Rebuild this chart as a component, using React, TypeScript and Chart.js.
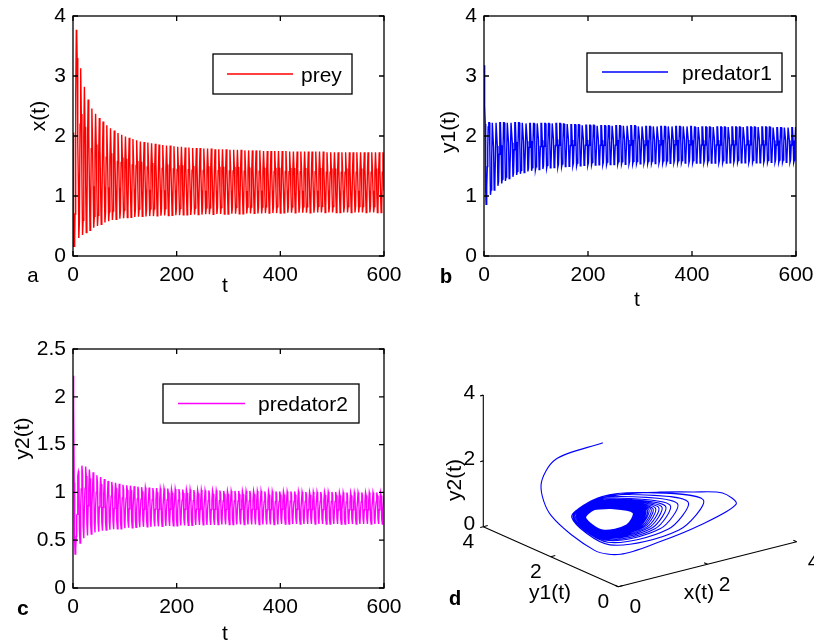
import React, { useEffect, useRef } from "react";
import { Chart, registerables } from "chart.js";

Chart.register(...registerables);

const W = 814;
const H = 641;
const SANS = '"Liberation Sans", Arial, Helvetica, sans-serif';
const MONO = '"Liberation Mono", "DejaVu Sans Mono", monospace';
const FONT_SIZE = 21;

// ---------- time axis ----------
const T_MIN = 0;
const T_MAX = 600;
const T_STEP = 200;
const PERIOD = 7.2; // one oscillation, read from the spacing of the spikes
const CYCLE_START = 11.2;

// ---------- initial transient ----------
const TRANSIENT_T = [0, 0.8, 1.6, 2.4, 3.2, 4.0, 4.8, 5.6, 6.4, 7.2, 8.0, 8.8, 9.6, 10.4];
const PREY_TRANSIENT = [2.06, 0.9, 0.16, 0.16, 0.3, 0.7, 1.6, 2.7, 3.77, 3.7, 3.3, 2.61, 1.87, 1.2];
const PRED1_TRANSIENT = [3.18, 3.05, 2.5, 2.2, 1.1, 0.86, 0.95, 1.15, 1.49, 1.8, 2.15, 2.22, 2.22, 2.22];
const PRED2_TRANSIENT = [2.22, 2.17, 1.9, 1.1, 0.5, 0.355, 0.36, 0.42, 0.54, 0.76, 0.77, 0.97, 1.17, 1.22];

// ---------- per-cycle minima / maxima (read from the envelopes) ----------
const PREY_TROUGHS = [
  0.30, 0.35, 0.39, 0.43, 0.47, 0.50, 0.53, 0.56, 0.58,
  0.60, 0.61, 0.62, 0.63, 0.64, 0.645, 0.65, 0.655, 0.66, 0.66,
  0.665, 0.665, 0.67, 0.67, 0.675, 0.675, 0.68, 0.68, 0.68, 0.685,
  0.685, 0.685, 0.69, 0.69, 0.69, 0.695, 0.695, 0.695, 0.70, 0.70,
  0.70, 0.70, 0.705, 0.705, 0.705, 0.705, 0.71, 0.71, 0.71, 0.71,
  0.71, 0.715, 0.715, 0.715, 0.715, 0.715, 0.72, 0.72, 0.72, 0.72,
  0.72, 0.72, 0.72, 0.72, 0.72, 0.725, 0.725, 0.725, 0.725, 0.725,
  0.725, 0.725, 0.725, 0.725, 0.725, 0.725, 0.725, 0.725, 0.725, 0.725, 0.725, 0.725, 0.725,
];
const PREY_PEAKS = [
  3.13, 2.82, 2.61, 2.46, 2.37, 2.30, 2.24, 2.18, 2.13,
  2.09, 2.05, 2.02, 1.99, 1.97, 1.95, 1.93, 1.91, 1.90, 1.89,
  1.88, 1.87, 1.86, 1.85, 1.84, 1.84, 1.83, 1.82, 1.82, 1.81,
  1.81, 1.80, 1.80, 1.80, 1.79, 1.79, 1.79, 1.78, 1.78, 1.78,
  1.78, 1.77, 1.77, 1.77, 1.77, 1.76, 1.76, 1.76, 1.76, 1.76,
  1.75, 1.75, 1.75, 1.75, 1.75, 1.75, 1.75, 1.74, 1.74, 1.74,
  1.74, 1.74, 1.74, 1.74, 1.74, 1.74, 1.74, 1.73, 1.73, 1.73,
  1.73, 1.73, 1.73, 1.73, 1.73, 1.73, 1.73, 1.73, 1.73, 1.73, 1.73, 1.73, 1.73,
];
const PRED1_TROUGHS = [
  1.02, 1.10, 1.17, 1.21, 1.25, 1.29, 1.32, 1.35, 1.37,
  1.39, 1.41, 1.42, 1.43, 1.44, 1.45, 1.46, 1.47, 1.475, 1.48,
  1.485, 1.49, 1.495, 1.50, 1.50, 1.505, 1.51, 1.51, 1.515, 1.515,
  1.52, 1.52, 1.52, 1.525, 1.525, 1.53, 1.53, 1.53, 1.53, 1.535,
  1.535, 1.535, 1.54, 1.54, 1.54, 1.54, 1.545, 1.545, 1.545, 1.545,
  1.55, 1.55, 1.55, 1.55, 1.55, 1.55, 1.55, 1.55, 1.55, 1.55,
  1.55, 1.55, 1.55, 1.55, 1.55, 1.555, 1.555, 1.555, 1.555, 1.555,
  1.555, 1.555, 1.555, 1.555, 1.555, 1.555, 1.56, 1.56, 1.56, 1.56, 1.56, 1.56, 1.56,
];
const PRED1_PEAKS = [
  2.22, 2.22, 2.22, 2.22, 2.22, 2.22, 2.22, 2.22, 2.22,
  2.21, 2.21, 2.21, 2.21, 2.21, 2.21, 2.21, 2.21, 2.21, 2.21,
  2.20, 2.20, 2.19, 2.19, 2.19, 2.18, 2.18, 2.18, 2.18, 2.17,
  2.17, 2.17, 2.17, 2.17, 2.17, 2.17, 2.17, 2.17, 2.17, 2.17,
  2.16, 2.16, 2.16, 2.16, 2.16, 2.16, 2.16, 2.16, 2.16, 2.16,
  2.16, 2.16, 2.16, 2.16, 2.16, 2.15, 2.15, 2.15, 2.15, 2.15,
  2.15, 2.15, 2.15, 2.15, 2.15, 2.15, 2.15, 2.15, 2.15, 2.15,
  2.15, 2.15, 2.15, 2.15, 2.15, 2.15, 2.14, 2.14, 2.14, 2.14, 2.14, 2.14, 2.14,
];
const PRED2_TROUGHS = [
  0.47, 0.52, 0.55, 0.565, 0.58, 0.59, 0.60, 0.605, 0.61,
  0.615, 0.62, 0.62, 0.625, 0.63, 0.63, 0.635, 0.635, 0.64, 0.64,
  0.64, 0.645, 0.645, 0.645, 0.65, 0.65, 0.65, 0.65, 0.655, 0.655,
  0.655, 0.655, 0.66, 0.66, 0.66, 0.66, 0.66, 0.66, 0.665, 0.665,
  0.665, 0.665, 0.665, 0.665, 0.665, 0.665, 0.665, 0.665, 0.665, 0.665,
  0.665, 0.665, 0.665, 0.665, 0.665, 0.67, 0.67, 0.67, 0.67, 0.67,
  0.67, 0.67, 0.67, 0.67, 0.67, 0.67, 0.67, 0.67, 0.67, 0.67,
  0.67, 0.67, 0.67, 0.67, 0.67, 0.67, 0.67, 0.67, 0.67, 0.67, 0.67, 0.67, 0.67,
];
const PRED2_PEAKS = [
  1.28, 1.27, 1.24, 1.21, 1.18, 1.16, 1.14, 1.12, 1.11,
  1.10, 1.09, 1.08, 1.075, 1.07, 1.065, 1.06, 1.055, 1.05, 1.05,
  1.045, 1.045, 1.04, 1.04, 1.04, 1.035, 1.035, 1.035, 1.03, 1.03,
  1.03, 1.025, 1.025, 1.025, 1.02, 1.02, 1.02, 1.02, 1.02, 1.015,
  1.015, 1.015, 1.015, 1.015, 1.015, 1.015, 1.015, 1.015, 1.015, 1.015,
  1.01, 1.01, 1.01, 1.01, 1.01, 1.01, 1.01, 1.01, 1.01, 1.01,
  1.005, 1.005, 1.005, 1.005, 1.005, 1.005, 1.005, 1.005, 1.005, 1.005,
  1.0, 1.0, 1.0, 1.0, 1.0, 1.0, 1.0, 1.0, 1.0, 1.0, 1.0, 1.0, 1.0,
];

// position of each variable between its trough (0) and peak (1) over one cycle,
// read from the loop shape of the phase portrait
const PREY_SHAPE = [0, 0.1, 0.67, 1, 0.73, 0.36];
const PRED1_SHAPE = [0.63, 0, 0.07, 0.5, 1, 1];
const PRED2_SHAPE = [0.9, 0.17, 0, 0.45, 0.7, 1];

// ---------- build the sample tables ----------
type Pt = { x: number; y: number };
function buildSeries(transient: number[], troughs: number[], peaks: number[], shape: number[]): Pt[] {
  const pts: Pt[] = TRANSIENT_T.map((t, i) => ({ x: t, y: transient[i] }));
  troughs.forEach((lo, k) => {
    shape.forEach((f, j) => {
      pts.push({ x: CYCLE_START + (k + j / shape.length) * PERIOD, y: lo + (peaks[k] - lo) * f });
    });
  });
  return pts;
}
const PREY = buildSeries(PREY_TRANSIENT, PREY_TROUGHS, PREY_PEAKS, PREY_SHAPE);
const PRED1 = buildSeries(PRED1_TRANSIENT, PRED1_TROUGHS, PRED1_PEAKS, PRED1_SHAPE);
const PRED2 = buildSeries(PRED2_TRANSIENT, PRED2_TROUGHS, PRED2_PEAKS, PRED2_SHAPE);

// ---------- 3-D view (panel d) ----------
const VIEW_ORIGIN = [618.3, 586.7];
const VIEW_X = [44.6, -11.25];
const VIEW_Y1 = [-33.75, -15];
const VIEW_Z = [0, -32.9];
const PHASE_TICKS = [0, 2, 4];
function project(x: number, y1: number, z: number): Pt {
  return {
    x: VIEW_ORIGIN[0] + x * VIEW_X[0] + y1 * VIEW_Y1[0] + z * VIEW_Z[0],
    y: VIEW_ORIGIN[1] + x * VIEW_X[1] + y1 * VIEW_Y1[1] + z * VIEW_Z[1],
  };
}

type PanelCfg = {
  id: string;
  area: { left: number; right: number; top: number; bottom: number };
  yMax: number;
  yStep: number;
  data: Pt[];
  color: string;
  label: string;
  legend: { x0: number; y0: number; x1: number; y1: number; lx0: number; lx1: number; ly: number; tx: number };
  yTitle: { text: string; x: number; y: number };
  xTitle: { text: string; x: number; y: number };
  letter: { text: string; x: number; y: number; bold: boolean };
};

const PANELS: PanelCfg[] = [
  {
    id: "a",
    area: { left: 73, right: 384, top: 16, bottom: 256 },
    yMax: 4, yStep: 1, data: PREY, color: "#ff0000", label: "prey",
    legend: { x0: 213, y0: 54, x1: 352, y1: 94, lx0: 227, lx1: 293, ly: 74, tx: 301 },
    yTitle: { text: "x(t)", x: 39.5, y: 116 },
    xTitle: { text: "t", x: 225, y: 286 },
    letter: { text: "a", x: 33, y: 276, bold: false },
  },
  {
    id: "b",
    area: { left: 484, right: 796, top: 16, bottom: 256 },
    yMax: 4, yStep: 1, data: PRED1, color: "#0000ff", label: "predator1",
    legend: { x0: 587, y0: 53, x1: 782, y1: 92, lx0: 602, lx1: 668, ly: 72, tx: 682 },
    yTitle: { text: "y1(t)", x: 449.5, y: 132 },
    xTitle: { text: "t", x: 637, y: 300 },
    letter: { text: "b", x: 446, y: 278, bold: true },
  },
  {
    id: "c",
    area: { left: 73, right: 384, top: 349, bottom: 588 },
    yMax: 2.5, yStep: 0.5, data: PRED2, color: "#ff00ff", label: "predator2",
    legend: { x0: 163, y0: 384, x1: 359, y1: 423, lx0: 178, lx1: 245, ly: 403.5, tx: 258 },
    yTitle: { text: "y2(t)", x: 23, y: 438.5 },
    xTitle: { text: "t", x: 225, y: 634 },
    letter: { text: "c", x: 23, y: 610, bold: true },
  },
];

const TICK_LEN = 5;
const AXIS_W = 73;
const XAXIS_H = 40;

function drawText(ctx: CanvasRenderingContext2D, text: string, x: number, y: number, font: string, rotate = false) {
  ctx.save();
  ctx.translate(x, y);
  if (rotate) ctx.rotate(-Math.PI / 2);
  ctx.font = font;
  ctx.fillStyle = "#000";
  ctx.textAlign = "center";
  ctx.textBaseline = "middle";
  ctx.fillText(text, 0, 0);
  ctx.restore();
}

function makeSeriesChart(canvas: HTMLCanvasElement, p: PanelCfg) {
  const sansFont = `${FONT_SIZE}px ${SANS}`;
  const frame = {
    id: "frame_" + p.id,
    afterDraw(chart: any) {
      const { ctx, chartArea: a, scales } = chart;
      ctx.save();
      ctx.strokeStyle = "#000";
      ctx.lineWidth = 1.3;
      ctx.strokeRect(a.left, a.top, a.right - a.left, a.bottom - a.top);
      ctx.beginPath();
      scales.x.ticks.forEach((t: any) => {
        const px = scales.x.getPixelForValue(t.value);
        ctx.moveTo(px, a.bottom); ctx.lineTo(px, a.bottom - TICK_LEN);
        ctx.moveTo(px, a.top); ctx.lineTo(px, a.top + TICK_LEN);
      });
      scales.y.ticks.forEach((t: any) => {
        const py = scales.y.getPixelForValue(t.value);
        ctx.moveTo(a.left, py); ctx.lineTo(a.left + TICK_LEN, py);
        ctx.moveTo(a.right, py); ctx.lineTo(a.right - TICK_LEN, py);
      });
      ctx.stroke();
      // legend
      const L = p.legend;
      ctx.fillStyle = "#fff";
      ctx.fillRect(L.x0, L.y0, L.x1 - L.x0, L.y1 - L.y0);
      ctx.strokeStyle = "#000";
      ctx.lineWidth = 1.3;
      ctx.strokeRect(L.x0, L.y0, L.x1 - L.x0, L.y1 - L.y0);
      ctx.strokeStyle = p.color;
      ctx.lineWidth = 1.3;
      ctx.beginPath();
      ctx.moveTo(L.lx0, L.ly);
      ctx.lineTo(L.lx1, L.ly);
      ctx.stroke();
      ctx.fillStyle = "#000";
      ctx.font = sansFont;
      ctx.textAlign = "left";
      ctx.textBaseline = "middle";
      ctx.fillText(p.label, L.tx, L.ly + 2);
      ctx.restore();
      drawText(ctx, p.yTitle.text, p.yTitle.x, p.yTitle.y, sansFont, true);
      drawText(ctx, p.xTitle.text, p.xTitle.x, p.xTitle.y, sansFont);
      drawText(ctx, p.letter.text, p.letter.x, p.letter.y, `${p.letter.bold ? "bold " : ""}${FONT_SIZE}px ${MONO}`);
    },
  };
  return new Chart(canvas, {
    type: "scatter",
    data: {
      datasets: [
        {
          label: p.label,
          data: p.data,
          showLine: true,
          borderColor: p.color,
          borderWidth: 1.4,
          pointRadius: 0,
          tension: 0,
        } as any,
      ],
    },
    options: {
      animation: false,
      responsive: false,
      events: [],
      layout: {
        padding: {
          left: p.area.left - AXIS_W,
          right: W - p.area.right,
          top: p.area.top,
          bottom: H - p.area.bottom - XAXIS_H,
        },
      },
      scales: {
        x: {
          type: "linear",
          min: T_MIN,
          max: T_MAX,
          grid: { display: false, drawTicks: false },
          border: { display: false },
          ticks: {
            stepSize: T_STEP,
            autoSkip: false,
            maxRotation: 0,
            padding: 7,
            color: "#000",
            font: { family: SANS, size: FONT_SIZE },
            callback: (v: any) => String(Number(v)),
          },
          afterFit: (s: any) => {
            s.height = XAXIS_H;
            s.paddingLeft = 0;
            s.paddingRight = 0;
          },
        },
        y: {
          type: "linear",
          min: 0,
          max: p.yMax,
          grid: { display: false, drawTicks: false },
          border: { display: false },
          ticks: {
            stepSize: p.yStep,
            autoSkip: false,
            padding: 7,
            color: "#000",
            font: { family: SANS, size: FONT_SIZE },
            callback: (v: any) => String(Number(v)),
          },
          afterFit: (s: any) => {
            s.width = AXIS_W;
            s.paddingTop = 0;
            s.paddingBottom = 0;
          },
        },
      },
      plugins: { legend: { display: false }, tooltip: { enabled: false } },
    } as any,
    plugins: [frame],
  });
}

function makePhaseChart(canvas: HTMLCanvasElement) {
  const curve = PREY.map((pt, i) => project(pt.y, PRED1[i].y, PRED2[i].y));
  const black = { borderColor: "#000", borderWidth: 1.1, pointRadius: 0, showLine: true, clip: false, tension: 0 };
  const axes = [
    [project(0, 4, 0), project(0, 4, 4)],
    [project(0, 4, 0), project(0, 0, 0)],
    [project(0, 0, 0), project(4, 0, 0)],
  ];
  const ticks: Pt[][] = [];
  PHASE_TICKS.forEach((v) => {
    ticks.push([project(0, 4, v), project(-0.07, 4, v)]);
    ticks.push([project(0, v, 0), project(0.1, v, 0)]);
    ticks.push([project(v, 0, 0), project(v, 0.1, 0)]);
  });
  const sansFont = `${FONT_SIZE}px ${SANS}`;
  const labels = {
    id: "phaseLabels",
    afterDraw(chart: any) {
      const ctx = chart.ctx;
      PHASE_TICKS.forEach((v) => {
        const pz = project(0, 4, v);
        drawText(ctx, String(v), pz.x - 14, pz.y - 2, sansFont);
        const py = project(0, v, 0);
        drawText(ctx, String(v), py.x - 15, py.y + 16, sansFont);
        const px = project(v, 0, 0);
        drawText(ctx, String(v), px.x + 17, px.y + 21, sansFont);
      });
      drawText(ctx, "y2(t)", 455, 480, sansFont, true);
      drawText(ctx, "y1(t)", 550, 593, sansFont);
      drawText(ctx, "x(t)", 699, 593, sansFont);
      drawText(ctx, "d", 455, 600, `bold ${FONT_SIZE}px ${MONO}`);
    },
  };
  return new Chart(canvas, {
    type: "scatter",
    data: {
      datasets: [
        ...axes.map((seg) => ({ ...black, data: seg })),
        ...ticks.map((seg) => ({ ...black, data: seg })),
        {
          data: curve,
          showLine: true,
          borderColor: "#0000ff",
          borderWidth: 1.1,
          pointRadius: 0,
          tension: 0.3,
          clip: false,
        },
      ] as any,
    },
    options: {
      animation: false,
      responsive: false,
      events: [],
      layout: { padding: 0 },
      scales: {
        x: { type: "linear", min: 0, max: W, display: false },
        y: { type: "linear", min: 0, max: H, reverse: true, display: false },
      },
      plugins: { legend: { display: false }, tooltip: { enabled: false } },
    } as any,
    plugins: [labels],
  });
}

export default function App() {
  const ra = useRef<HTMLCanvasElement>(null);
  const rb = useRef<HTMLCanvasElement>(null);
  const rc = useRef<HTMLCanvasElement>(null);
  const rd = useRef<HTMLCanvasElement>(null);
  useEffect(() => {
    const charts = [
      makeSeriesChart(ra.current!, PANELS[0]),
      makeSeriesChart(rb.current!, PANELS[1]),
      makeSeriesChart(rc.current!, PANELS[2]),
      makePhaseChart(rd.current!),
    ];
    return () => charts.forEach((c) => c.destroy());
  }, []);
  const style: React.CSSProperties = { position: "absolute", left: 0, top: 0, width: W, height: H };
  return (
    <div style={{ position: "absolute", left: 0, top: 0, width: W, height: H, background: "#fff" }}>
      <canvas ref={ra} width={W} height={H} style={style} />
      <canvas ref={rb} width={W} height={H} style={style} />
      <canvas ref={rc} width={W} height={H} style={style} />
      <canvas ref={rd} width={W} height={H} style={style} />
    </div>
  );
}
